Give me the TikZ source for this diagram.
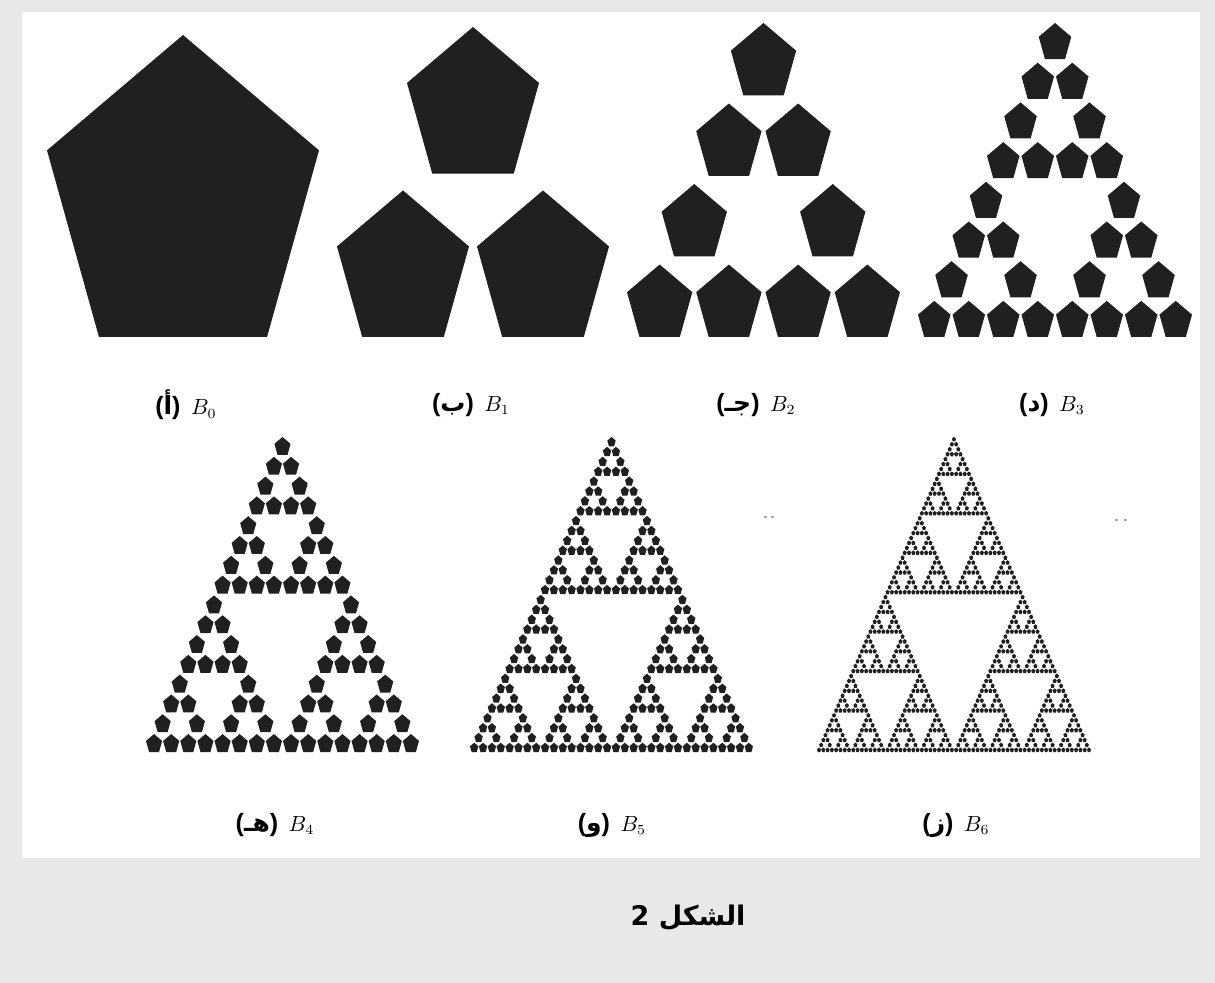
\documentclass[tikz,border=0pt]{standalone}
\usepackage{fontspec}
\newfontfamily\arabicfont[Script=Arabic]{DejaVu Sans}
\newfontfamily\parfont{Liberation Sans}
\TeXXeTstate=1
\definecolor{bggray}{HTML}{E8E8E8}
\definecolor{pentc}{HTML}{202020}
\definecolor{speck}{HTML}{A8A8A8}

\def\drawpent#1#2{\fill[pentc,shift={(#1,#2)}] (0,0) -- ({-0.5*\pW},{0.382*\pH}) -- ({-0.309*\pW},\pH) -- ({0.309*\pW},\pH) -- ({0.5*\pW},{0.382*\pH}) -- cycle;}

\def\sierp#1#2#3{%
 \ifnum#1=0 \drawpent{#2}{#3}%
 \else
  \begingroup
  \pgfmathtruncatemacro\lv{#1-1}%
  \pgfmathsetmacro\hx{2^(#1-2)*\pS}%
  \pgfmathsetmacro\hy{2^(#1-1)*\pV}%
  \pgfmathsetmacro\xl{#2-\hx}%
  \pgfmathsetmacro\xr{#2+\hx}%
  \pgfmathsetmacro\yb{#3+\hy}%
  \edef\sierpnext{\noexpand\sierp{\lv}{#2}{#3}\noexpand\sierp{\lv}{\xl}{\yb}\noexpand\sierp{\lv}{\xr}{\yb}}%
  \expandafter\endgroup\sierpnext
 \fi}

% n, left, right, top, bottom
\def\fractalfig#1#2#3#4#5{%
 \pgfmathsetmacro\pS{(#3-#2)/(2^#1-1+0.943)}%
 \pgfmathsetmacro\pW{0.943*\pS}%
 \pgfmathsetmacro\pH{1.11*\pW}%
 \pgfmathsetmacro\pV{(#5-#4-\pH)/(2^#1-1)}%
 \pgfmathsetmacro\apx{(#2+#3)/2}%
 \sierp{#1}{\apx}{#4}}

\newcommand\arlab[2]{{\fontsize{12.5}{14}\selectfont{\parfont\bfseries(}{\arabicfont\bfseries\beginR #1\endR}{\parfont\bfseries)}}\ \,$B_{#2}$}

\begin{document}
\begin{tikzpicture}[x=0.5pt,y=-0.5pt,
  lab/.style={inner sep=0pt,font=\fontsize{10.5}{12}\selectfont},
  capt/.style={inner sep=0pt,font=\arabicfont\bfseries\fontsize{13.5}{15}\selectfont}]
\useasboundingbox (0,0) rectangle (1215,983);
\fill[bggray] (0,0) rectangle (1215,983);
\fill[white] (22,12) rectangle (1200,858);

% B0
\def\pW{272}\def\pH{302}
\drawpent{183}{35}
% B1 .. B6
\fractalfig{1}{337}{609}{27}{337}
\fractalfig{2}{627}{900}{23}{337}
\fractalfig{3}{918}{1192}{23}{337}
\fractalfig{4}{146}{419}{437}{752}
\fractalfig{5}{470}{753}{437}{752}
\fractalfig{6}{817}{1091}{437}{752}

% specks
\fill[speck] (764,516) rectangle +(3,2);
\fill[speck] (771,516) rectangle +(3,2);
\fill[speck] (1115,519) rectangle +(3,2);
\fill[speck] (1124,519) rectangle +(3,2);

% labels
\node[lab] (l0) at (186,405) {\arlab{أ}{0}};
\node[lab] (l1) at (471,405) {\arlab{ب}{1}};
\node[lab] (l2) at (756,405) {\arlab{جـ}{2}};
\node[lab] (l3) at (1052,405) {\arlab{د}{3}};
\node[lab] (l4) at (275,825) {\arlab{هـ}{4}};
\node[lab] (l5) at (612,825) {\arlab{و}{5}};
\node[lab] (l6) at (956,825) {\arlab{ز}{6}};

\node[capt] (cap) at (688,918) {\beginR الشكل 2\endR};
\end{tikzpicture}
\end{document}
